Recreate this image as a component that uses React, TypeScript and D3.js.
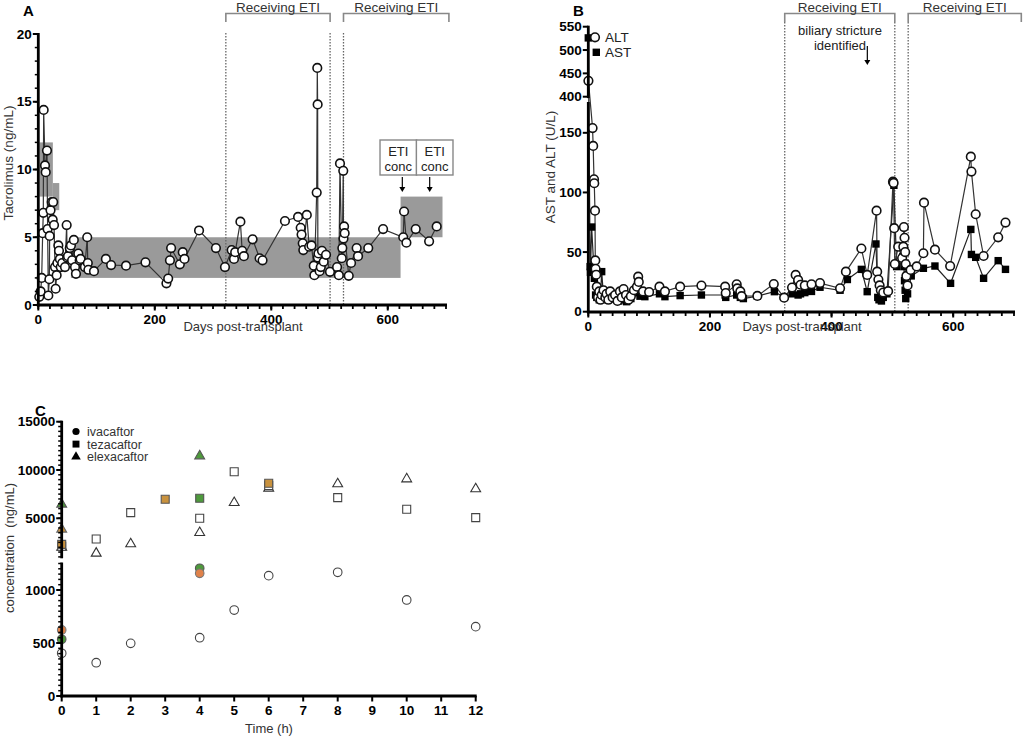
import { useEffect, useRef } from "react";
import * as d3 from "d3";

const FONT = "'Liberation Sans', Arial, sans-serif";

// ---- Panel A: tacrolimus trough levels
const tacDays = [1.7, 4, 5.8, 7.5, 8.6, 9.2, 11.5, 12.7, 14.9, 16, 17.2, 19, 19.5, 21, 23, 24.7, 25.5, 27, 28.7, 29.8, 31.5, 32.7, 34.4, 35.5, 37, 38.5, 41, 45.8, 48.7, 49.5, 51, 54, 56, 58, 61, 63, 64.7, 68.7, 71, 72.5, 80, 84, 85, 86, 95.6, 116, 125, 150.6, 184, 220, 223, 226, 228, 243, 248, 251, 276, 305, 320.5, 332, 336, 338, 347, 350, 353, 368, 380, 385, 423.5, 446, 450.5, 452, 454, 455, 461, 465, 469, 473, 474, 478, 479, 479.6, 480, 481, 483, 485, 487, 490, 494, 500.8, 513, 516, 518, 521, 522, 523.6, 524, 525, 526, 533, 537, 546.6, 549, 566.5, 592, 626.6, 628, 632, 648, 671, 684];
const tacLevels = [0.6, 1.0, 2.0, 5.3, 6.8, 14.4, 10.3, 9.8, 11.4, 5.6, 0.7, 1.9, 5.1, 7.0, 7.6, 6.3, 7.6, 5.9, 2.8, 1.2, 2.2, 3.1, 4.4, 4.0, 3.4, 2.8, 3.1, 2.8, 5.9, 3.5, 3.6, 4.2, 4.4, 3.3, 4.8, 2.8, 2.3, 3.8, 3.3, 3.4, 2.8, 5.0, 3.1, 2.6, 2.5, 3.4, 2.95, 2.9, 3.15, 1.6, 1.95, 3.3, 4.2, 3.0, 3.9, 3.4, 5.5, 4.2, 2.8, 4.05, 3.4, 3.9, 6.15, 4.0, 3.6, 4.85, 3.45, 3.3, 6.2, 6.5, 5.7, 5.2, 4.55, 4.05, 6.65, 4.3, 4.4, 2.9, 2.2, 8.3, 17.5, 14.8, 3.5, 3.8, 2.5, 2.8, 4.0, 3.2, 3.7, 2.45, 2.8, 2.2, 10.45, 3.45, 4.2, 9.9, 4.9, 5.8, 5.3, 2.15, 3.1, 4.2, 3.6, 4.2, 5.6, 5.0, 6.9, 4.6, 5.6, 4.7, 5.8];
// target ranges: start day, end day, low, high
const tacTargetStart = [2, 25, 56, 622];
const tacTargetEnd = [25, 36, 622, 694];
const tacTargetLow = [8, 7, 2, 5];
const tacTargetHigh = [12, 9, 5, 8];
const etiStartA = [322, 524];
const etiEndA = [501, 705];
const etiConcDays = [625, 672];

// ---- Panel B: liver enzymes
const altDays = [0.2, 7, 8, 9.4, 9.8, 11, 11.5, 12, 13, 14, 16, 18, 20, 22, 25, 28, 30, 33, 36, 40, 44, 48, 52, 55, 58, 62, 66, 70, 75, 80, 82, 83, 90, 100, 117, 126, 151, 186, 225, 226, 244, 245, 250, 252, 278, 305, 322, 335, 341, 345, 349, 356, 367, 381, 414, 423.6, 449, 458.6, 474, 475, 477, 479, 481, 485, 493, 501, 502, 503, 504, 509.6, 516, 518, 519, 520, 521, 522, 523, 525, 530, 540, 551, 552, 570, 595, 629, 630, 637, 650, 674, 686];
const altVals = [434, 154, 139, 111, 107.7, 84.7, 43, 36, 31, 21, 12, 17, 10, 14, 18, 12, 15, 10, 17, 12, 14, 9, 17, 12, 19, 14, 10, 13, 18, 21, 29.4, 25, 17, 16.5, 21, 17, 21, 21.9, 21, 15.6, 23, 19.5, 17, 13, 13.2, 23.2, 11.8, 20.3, 30.8, 26.6, 22.6, 22, 23, 24, 19.6, 33.6, 53, 30.8, 84.7, 33.6, 27, 22, 18, 16, 17.2, 109, 108, 70, 40, 54.5, 45, 54.5, 71, 62, 50, 40, 30, 22, 35, 38, 49, 91.4, 52, 38.3, 130, 117.5, 81.7, 46.7, 62.4, 74.7];
const astDays = [0, 3, 3.5, 5.5, 10, 12, 14, 16, 18, 20, 22, 25, 28, 32, 36, 40, 45, 50, 55, 60, 63, 70, 80, 85, 93, 117, 126, 151, 186, 225, 226, 244, 250, 255, 278, 306, 322, 335, 345, 349, 356, 367, 381, 414, 426, 449, 458.6, 473, 476, 478, 480, 482, 485, 491, 502.5, 507, 517, 519, 520, 521, 522, 525, 531, 551, 570, 595.7, 629, 630, 637, 650, 674, 686];
const astVals = [526, 37.8, 33, 71, 28, 14, 12, 17.6, 10, 12, 33.6, 13, 11, 10, 13, 11, 13, 9, 12, 10, 8.4, 11, 16, 13, 12.6, 15, 12.6, 13.5, 14, 14, 12, 14, 12, 11, 13, 16.8, 12, 15, 14, 15, 16, 17, 20.5, 18, 27, 35.5, 16.8, 56.8, 12, 10, 11, 9, 12, 15, 106, 37.8, 46, 37.8, 26, 18, 11, 15, 30, 36.4, 38.3, 23.8, 69, 48, 45.6, 28, 42.8, 35.5];
const etiStartB = [323, 526];
const etiEndB = [504, 712];
const strictureDay = 458;

// ---- Panel C: ETI concentrations
const hours = [0, 1, 2, 4, 5, 6, 8, 10, 12];
const ivacaftor = [403, 314, 497, 550, 811, 1135, 1167, 906, 654];
const tezacaftor = [2100, 2857, 5580, 5000, 9824, 8400, 7133, 5932, 5062];
const elexacaftor = [2000, 1373, 2340, 3509, 6615, 8106, 8551, 9068, 8033];
// coloured samples: [hour, value]
const ivaGreen = [[0, 535], [4, 1205]];
const ivaOrange = [[0, 623], [4, 1157]];
const tezaGreen = [[4, 7070]];
const tezaOrange = [[0, 2300], [3, 6967], [6, 8623]];
const elexaGreen = [[0, 6449], [4, 11449]];
const elexaOrange = [[0, 3861]];

const GREEN = "#4e9a3c";
const ORANGE = "#e0824a";
const GOLD = "#c9923e";

// plain axis drawing, GraphPad style: thick line, bold labels
function axisX(g: any, scale: any, y: number, majors: number[], minors: number[]) {
  const [r0, r1] = scale.range();
  minors.forEach((v) => {
    g.append("line").attr("x1", scale(v)).attr("x2", scale(v)).attr("y1", y).attr("y2", y + 4)
      .attr("stroke", "#000").attr("stroke-width", 1.8);
  });
  majors.forEach((v) => {
    g.append("line").attr("x1", scale(v)).attr("x2", scale(v)).attr("y1", y).attr("y2", y + 5.5)
      .attr("stroke", "#000").attr("stroke-width", 2);
    g.append("text").attr("x", scale(v)).attr("y", y + 18.5).attr("text-anchor", "middle")
      .attr("font-family", FONT).attr("font-weight", "bold").attr("font-size", "13.5px").attr("fill", "#000")
      .text(String(v));
  });
  g.append("line").attr("x1", r0 - 1.4).attr("x2", r1 + 1).attr("y1", y).attr("y2", y)
    .attr("stroke", "#000").attr("stroke-width", 2.8);
}

function axisY(g: any, scale: any, x: number, majors: number[], minors: number[]) {
  const [r0, r1] = scale.range();
  minors.forEach((v) => {
    g.append("line").attr("x1", x - 3.5).attr("x2", x).attr("y1", scale(v)).attr("y2", scale(v))
      .attr("stroke", "#000").attr("stroke-width", 1.5);
  });
  majors.forEach((v) => {
    g.append("line").attr("x1", x - 5.5).attr("x2", x).attr("y1", scale(v)).attr("y2", scale(v))
      .attr("stroke", "#000").attr("stroke-width", 2);
    g.append("text").attr("x", x - 6.5).attr("y", scale(v) + 4.6).attr("text-anchor", "end")
      .attr("font-family", FONT).attr("font-weight", "bold").attr("font-size", "13.5px").attr("fill", "#000")
      .text(String(v));
  });
  g.append("line").attr("x1", x).attr("x2", x).attr("y1", r0 + 1.4).attr("y2", r1 - 1)
    .attr("stroke", "#000").attr("stroke-width", 2.8);
}

function arrow(g: any, x: number, y1: number, y2: number) {
  g.append("line").attr("x1", x).attr("x2", x).attr("y1", y1).attr("y2", y2 - 4)
    .attr("stroke", "#000").attr("stroke-width", 1.2);
  g.append("path").attr("d", `M${x - 3},${y2 - 5}L${x + 3},${y2 - 5}L${x},${y2}Z`).attr("fill", "#000");
}

function bracket(g: any, x1: number, x2: number, label: string) {
  g.append("path")
    .attr("d", `M${x1},22V13.5H${x2}V22`)
    .attr("fill", "none").attr("stroke", "#888").attr("stroke-width", 1.6);
  g.append("text").attr("x", (x1 + x2) / 2).attr("y", 11.5).attr("text-anchor", "middle")
    .attr("font-family", FONT).attr("font-size", "13.5px").attr("fill", "#333").text(label);
}

function dotted(g: any, x: number, y1: number, y2: number) {
  g.append("line").attr("x1", x).attr("x2", x).attr("y1", y1).attr("y2", y2)
    .attr("stroke", "#666").attr("stroke-width", 1.3).attr("stroke-dasharray", "1.5,1.5");
}

export default function App() {
  const ref = useRef<SVGSVGElement>(null);

  useEffect(() => {
    if (!ref.current) return;
    const svg = d3.select(ref.current);
    svg.selectAll("*").remove();

    // ================= Panel A =================
    const gA = svg.append("g");
    const xA = d3.scaleLinear().domain([0, 700]).range([38.3, 446]);
    const yA = d3.scaleLinear().domain([0, 20]).range([305, 34]);

    tacTargetStart.forEach((s, i) => {
      gA.append("rect")
        .attr("x", xA(s)).attr("width", xA(tacTargetEnd[i]) - xA(s))
        .attr("y", yA(tacTargetHigh[i])).attr("height", yA(tacTargetLow[i]) - yA(tacTargetHigh[i]))
        .attr("fill", "#9a9a9a");
    });

    etiStartA.forEach((s, i) => {
      dotted(gA, xA(s), 33, 305);
      if (i === 0) dotted(gA, xA(etiEndA[i]), 33, 305);
      bracket(gA, xA(s), xA(etiEndA[i]), "Receiving ETI");
    });

    const tac = tacDays.map((d, i) => [d, tacLevels[i]]);
    gA.append("path")
      .attr("d", d3.line().x((d: any) => xA(d[0])).y((d: any) => yA(d[1]))(tac as any))
      .attr("fill", "none").attr("stroke", "#333").attr("stroke-width", 1.2);
    gA.selectAll("circle.tac").data(tac).enter().append("circle")
      .attr("cx", (d) => xA(d[0])).attr("cy", (d) => yA(d[1])).attr("r", 4.3)
      .attr("fill", "#fff").attr("stroke", "#111").attr("stroke-width", 1.6);

    // ETI conc annotation
    etiConcDays.forEach((d, i) => {
      const cx = xA(d) - 4 + i * 9;
      gA.append("rect").attr("x", cx - 18.3).attr("y", 140).attr("width", 36.6).attr("height", 35)
        .attr("fill", "#fff").attr("stroke", "#888").attr("stroke-width", 1.4);
      gA.append("text").attr("x", cx).attr("y", 156).attr("text-anchor", "middle")
        .attr("font-family", FONT).attr("font-size", "13px").attr("fill", "#222").text("ETI");
      gA.append("text").attr("x", cx).attr("y", 171).attr("text-anchor", "middle")
        .attr("font-family", FONT).attr("font-size", "13px").attr("fill", "#222").text("conc");
      arrow(gA, xA(d), 177, 192);
    });

    axisX(gA, xA, 305, [0, 200, 400, 600], d3.range(0, 701, 20));
    axisY(gA, yA, 38.3, [0, 5, 10, 15, 20], d3.range(0, 21, 1));

    gA.append("text").attr("x", 243).attr("y", 331).attr("text-anchor", "middle")
      .attr("font-family", FONT).attr("font-size", "13px").attr("fill", "#333").text("Days post-transplant");
    gA.append("text").attr("transform", "translate(13,163) rotate(-90)").attr("text-anchor", "middle")
      .attr("font-family", FONT).attr("font-size", "13.5px").attr("fill", "#333").text("Tacrolimus (ng/mL)");
    gA.append("text").attr("x", 23).attr("y", 15.5).attr("font-family", FONT).attr("font-weight", "bold")
      .attr("font-size", "15px").text("A");

    // ================= Panel B =================
    const gB = svg.append("g");
    const xB = d3.scaleLinear().domain([0, 700]).range([588.3, 1014]);
    const yBlo = d3.scaleLinear().domain([0, 175]).range([311.7, 103]);
    const yBhi = d3.scaleLinear().domain([400, 550]).range([96.7, 26.7]);
    const yB = (v: number) => (v >= 400 ? yBhi(v) : yBlo(v));

    etiStartB.forEach((s, i) => {
      dotted(gB, xB(s), 22, 312);
      if (i === 0) dotted(gB, xB(etiEndB[i]), 22, 312);
      bracket(gB, xB(s), xB(etiEndB[i]), "Receiving ETI");
    });

    gB.append("text").attr("x", 840).attr("y", 35).attr("text-anchor", "middle")
      .attr("font-family", FONT).attr("font-size", "13px").attr("fill", "#222").text("biliary stricture");
    gB.append("text").attr("x", 840).attr("y", 50).attr("text-anchor", "middle")
      .attr("font-family", FONT).attr("font-size", "13px").attr("fill", "#222").text("identified");
    arrow(gB, xB(strictureDay) + 0.5, 46, 65);

    const alt = altDays.map((d, i) => [d, altVals[i]]);
    const ast = astDays.map((d, i) => [d, astVals[i]]);
    const lineB = d3.line().x((d: any) => xB(d[0])).y((d: any) => yB(d[1]));
    gB.append("path").attr("d", lineB(ast as any)).attr("fill", "none").attr("stroke", "#222").attr("stroke-width", 1.2);
    gB.append("path").attr("d", lineB(alt as any)).attr("fill", "none").attr("stroke", "#333").attr("stroke-width", 1.2);
    gB.selectAll("rect.ast").data(ast).enter().append("rect")
      .attr("x", (d) => xB(d[0]) - 3.7).attr("y", (d) => yB(d[1]) - 3.7)
      .attr("width", 7.4).attr("height", 7.4).attr("fill", "#000");
    gB.selectAll("circle.alt").data(alt).enter().append("circle")
      .attr("cx", (d) => xB(d[0])).attr("cy", (d) => yB(d[1])).attr("r", 4.3)
      .attr("fill", "#fff").attr("stroke", "#111").attr("stroke-width", 1.6);

    axisX(gB, xB, 312, [0, 200, 400, 600], d3.range(0, 701, 20));
    axisY(gB, yBlo, 588.3, [0, 50, 100, 150], []);
    axisY(gB, yBhi, 588.3, [400, 450, 500, 550], []);

    // legend B
    gB.append("circle").attr("cx", 595).attr("cy", 37.3).attr("r", 4.3)
      .attr("fill", "#fff").attr("stroke", "#111").attr("stroke-width", 1.6);
    gB.append("text").attr("x", 605).attr("y", 42).attr("font-family", FONT).attr("font-size", "13.5px")
      .attr("fill", "#222").text("ALT");
    gB.append("rect").attr("x", 592.6).attr("y", 48.6).attr("width", 7.4).attr("height", 7.4).attr("fill", "#000");
    gB.append("text").attr("x", 605).attr("y", 57).attr("font-family", FONT).attr("font-size", "13.5px")
      .attr("fill", "#222").text("AST");

    gB.append("text").attr("x", 802).attr("y", 331).attr("text-anchor", "middle")
      .attr("font-family", FONT).attr("font-size", "13px").attr("fill", "#333").text("Days post-transplant");
    gB.append("text").attr("transform", "translate(555,167) rotate(-90)").attr("text-anchor", "middle")
      .attr("font-family", FONT).attr("font-size", "13.5px").attr("fill", "#333").text("AST and ALT (U/L)");
    gB.append("text").attr("x", 573).attr("y", 15.5).attr("font-family", FONT).attr("font-weight", "bold")
      .attr("font-size", "15px").text("B");

    // ================= Panel C =================
    const gC = svg.append("g");
    const xC = d3.scaleLinear().domain([0, 12]).range([61.7, 475.7]);
    const yClo = d3.scaleLinear().domain([0, 1250]).range([696, 563.5]);
    const yChi = d3.scaleLinear().domain([1000, 15000]).range([556.9, 421.7]);
    const yC = (v: number, seg: string) => (seg === "lo" ? yClo(v) : yChi(v));

    const sq = d3.symbol().type(d3.symbolSquare).size(64);
    const tri = d3.symbol().type(d3.symbolTriangle).size(42);

    const marker = (shape: string, t: number, v: number, seg: string, fill: string, stroke: string) => {
      const cx = xC(t);
      const cy = yC(v, seg);
      if (shape === "circle") {
        gC.append("circle").attr("cx", cx).attr("cy", cy).attr("r", 4.3)
          .attr("fill", fill).attr("stroke", stroke).attr("stroke-width", 1.1);
      } else {
        gC.append("path").attr("d", (shape === "square" ? sq : tri)() as string)
          .attr("transform", `translate(${cx},${cy})`)
          .attr("fill", fill).attr("stroke", stroke).attr("stroke-width", 1.1);
      }
    };

    hours.forEach((t, i) => {
      marker("triangle", t, elexacaftor[i], "hi", "#fff", "#333");
      marker("square", t, tezacaftor[i], "hi", "#fff", "#444");
      marker("circle", t, ivacaftor[i], "lo", "#fff", "#444");
    });
    ivaGreen.forEach(([t, v]) => marker("circle", t, v, "lo", GREEN, "#555"));
    ivaOrange.forEach(([t, v]) => marker("circle", t, v, "lo", ORANGE, "#777"));
    tezaGreen.forEach(([t, v]) => marker("square", t, v, "hi", GREEN, "#555"));
    tezaOrange.forEach(([t, v]) => marker("square", t, v, "hi", GOLD, "#555"));
    elexaGreen.forEach(([t, v]) => marker("triangle", t, v, "hi", GREEN, "#555"));
    elexaOrange.forEach(([t, v]) => marker("triangle", t, v, "hi", GOLD, "#666"));

    axisX(gC, xC, 696, d3.range(0, 13, 1), []);
    axisY(gC, yClo, 61.7, [0, 500, 1000], d3.range(0, 1251, 50));
    axisY(gC, yChi, 61.7, [5000, 10000, 15000], d3.range(1000, 15001, 500));

    // legend C
    const legC = [["circle", "ivacaftor"], ["square", "tezacaftor"], ["triangle", "elexacaftor"]];
    legC.forEach(([shape, label], i) => {
      const ly = 431.5 + i * 12.6;
      if (shape === "circle") {
        gC.append("circle").attr("cx", 76).attr("cy", ly).attr("r", 3.6).attr("fill", "#000");
      } else {
        const sym = d3.symbol().type(shape === "square" ? d3.symbolSquare : d3.symbolTriangle).size(shape === "square" ? 48 : 40);
        gC.append("path").attr("d", sym() as string).attr("transform", `translate(76,${ly})`).attr("fill", "#000");
      }
      gC.append("text").attr("x", 87).attr("y", ly + 4.5).attr("font-family", FONT).attr("font-size", "12.5px")
        .attr("fill", "#333").text(label);
    });

    gC.append("text").attr("x", 269).attr("y", 733).attr("text-anchor", "middle")
      .attr("font-family", FONT).attr("font-size", "13px").attr("fill", "#333").text("Time (h)");
    gC.append("text").attr("transform", "translate(14,548) rotate(-90)").attr("text-anchor", "middle")
      .attr("font-family", FONT).attr("font-size", "13px").attr("fill", "#333")
      .text("concentration\u00a0\u00a0(ng/mL)");
    gC.append("text").attr("x", 35).attr("y", 416).attr("font-family", FONT).attr("font-weight", "bold")
      .attr("font-size", "15px").text("C");
  }, []);

  return (
    <svg
      ref={ref}
      width={1033}
      height={743}
      style={{ position: "absolute", left: 0, top: 0, background: "#fff" }}
    />
  );
}
